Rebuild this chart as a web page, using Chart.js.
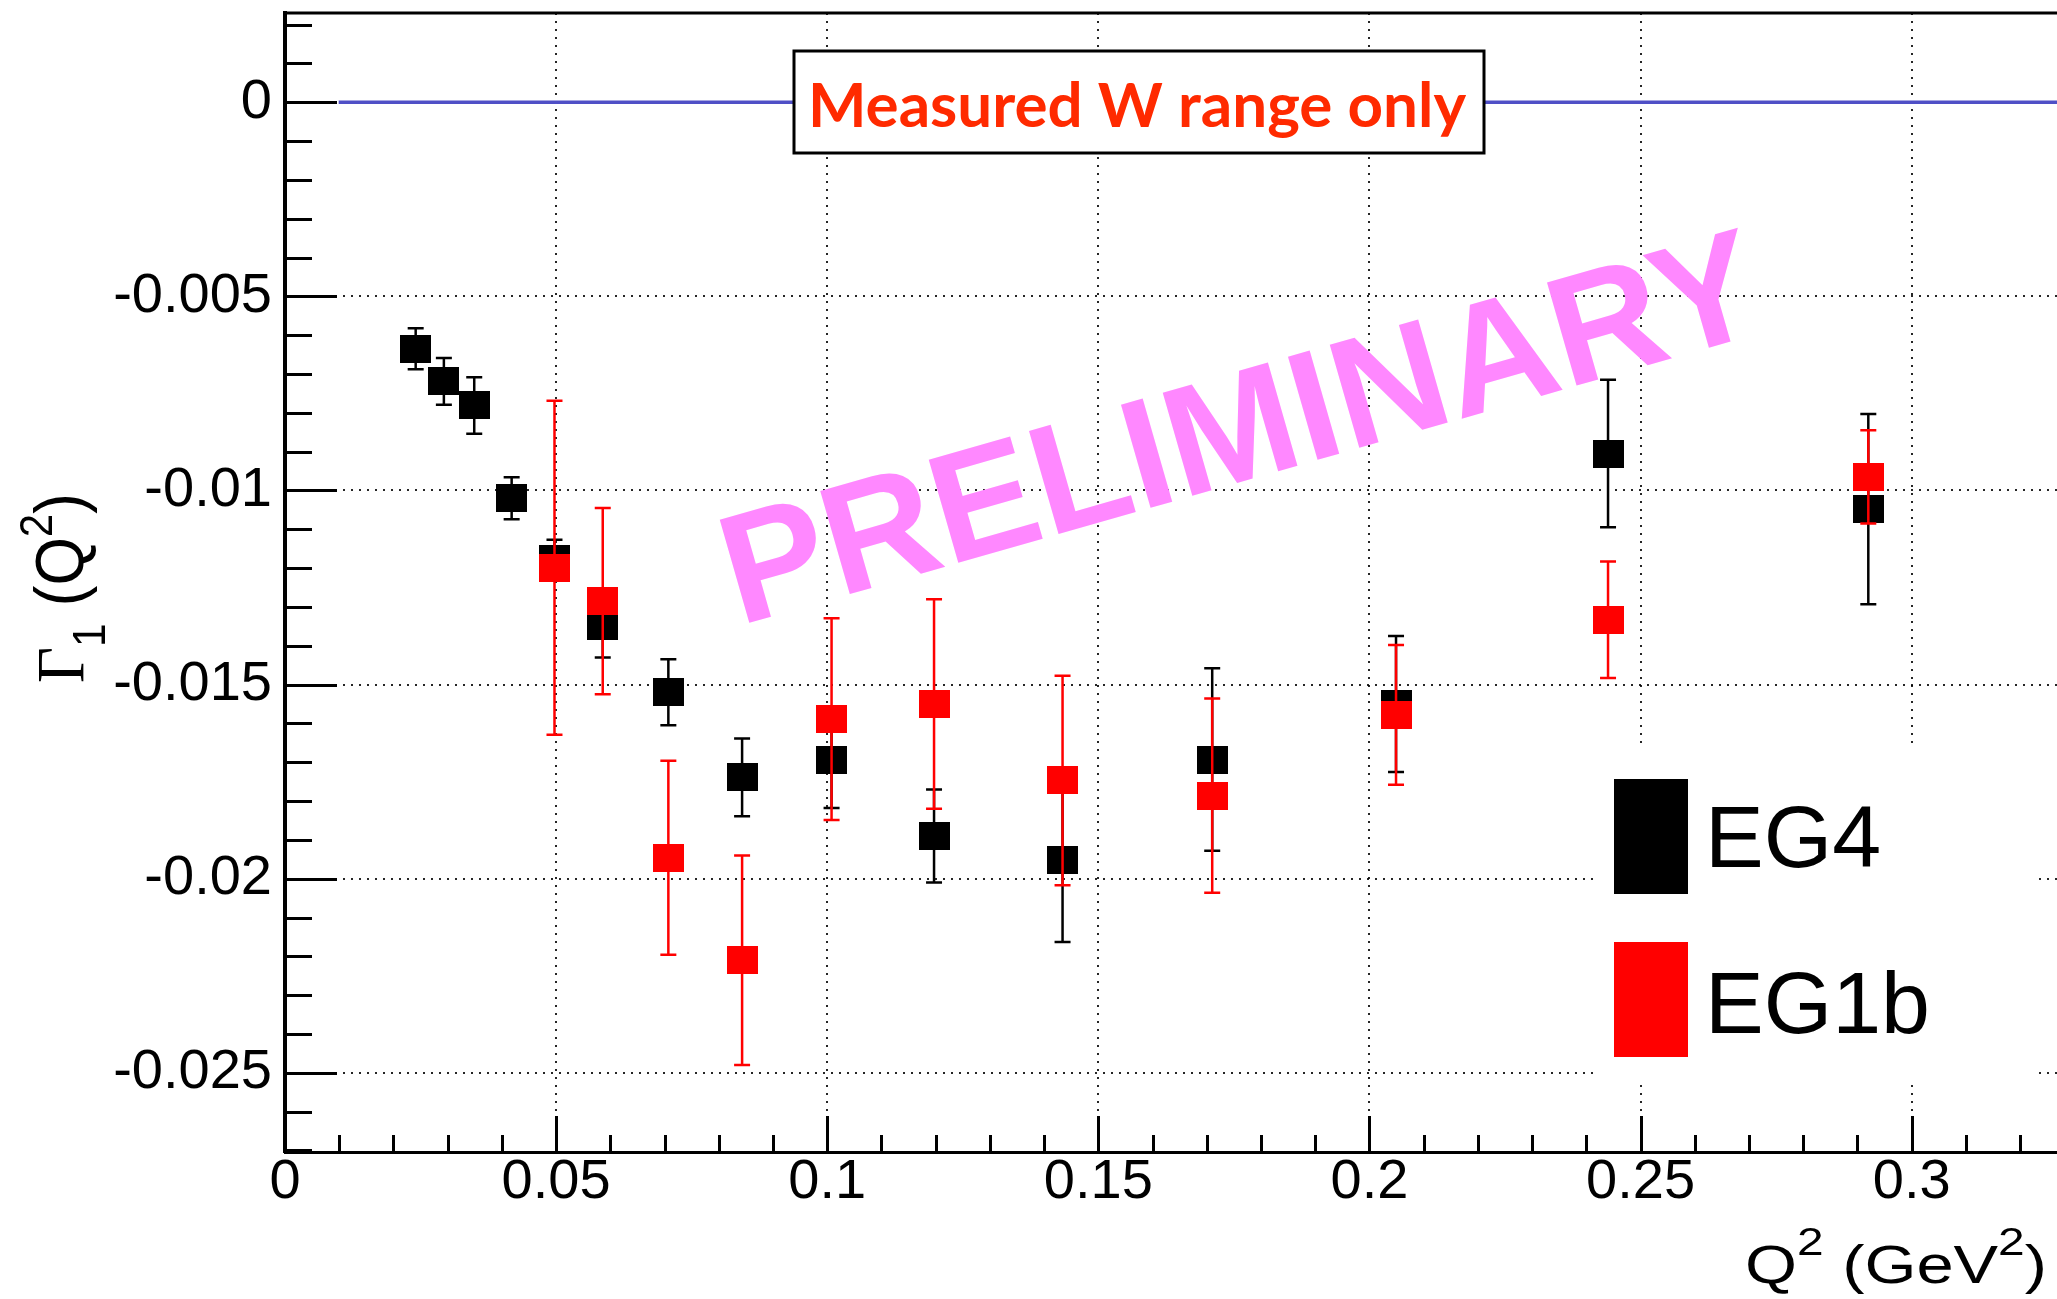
<!DOCTYPE html>
<html><head><meta charset="utf-8">
<script src="https://cdn.jsdelivr.net/npm/chart.js@4.4.1/dist/chart.umd.min.js"></script>
<style>html,body{margin:0;padding:0;background:#fff;overflow:hidden}canvas{display:block}</style>
</head><body>
<canvas id="c" width="2057" height="1299"></canvas>
<script>
// ---------------- data ----------------
const eg4Q2     = [0.0241, 0.0293, 0.0349, 0.0418, 0.0497, 0.0586, 0.0707, 0.0843, 0.1008, 0.1197, 0.1434, 0.1710, 0.2049, 0.2440, 0.2920];
const eg4Gamma1 = [-0.00635, -0.00719, -0.00781, -0.0102, -0.01177, -0.0135, -0.0152, -0.01739, -0.01693, -0.0189, -0.01953, -0.01693, -0.0155, -0.00905, -0.01048];
const eg4Err    = [0.00053, 0.0006, 0.00073, 0.00054, 0.0005, 0.0008, 0.00085, 0.001, 0.00125, 0.0012, 0.0021, 0.00235, 0.00175, 0.0019, 0.00245];

const eg1bQ2     = [0.0497, 0.0586, 0.0707, 0.0843, 0.1008, 0.1197, 0.1434, 0.1710, 0.2049, 0.2440, 0.2920];
const eg1bGamma1 = [-0.01199, -0.01285, -0.01946, -0.0221, -0.01589, -0.0155, -0.01747, -0.01786, -0.01578, -0.01333, -0.00965];
const eg1bErr    = [0.0043, 0.0024, 0.0025, 0.0027, 0.0026, 0.0027, 0.0027, 0.0025, 0.0018, 0.0015, 0.0012];

const zeroLineQ2 = [0.0099, 0.34];
const zeroLineValue = 0;

const xTickValues = [0, 0.05, 0.1, 0.15, 0.2, 0.25, 0.3];
const xTickLabels = ['0', '0.05', '0.1', '0.15', '0.2', '0.25', '0.3'];
const yTickValues = [-0.025, -0.02, -0.015, -0.01, -0.005, 0];
const yTickLabels = ['-0.025', '-0.02', '-0.015', '-0.01', '-0.005', '0'];

const seriesNames = ['EG4', 'EG1b'];
const boxText = 'Measured W range only';
const watermarkText = 'PRELIMINARY';

// ---------------- styling helpers ----------------
const SANS = '"Liberation Sans", Arial, sans-serif';
function marker(color) {
  const c = document.createElement('canvas');
  c.width = 31; c.height = 28;
  const g = c.getContext('2d');
  g.fillStyle = color; g.fillRect(0, 0, 31, 28);
  return c;
}
function inkText(ctx, text, x, y, targetW) {
  const m = ctx.measureText(text);
  const w = m.actualBoundingBoxLeft + m.actualBoundingBoxRight;
  ctx.save();
  ctx.translate(x, y);
  if (targetW) ctx.scale(targetW / w, 1);
  ctx.fillText(text, m.actualBoundingBoxLeft, 0);
  ctx.restore();
}
function richText(ctx, segs) {
  let w = 0;
  segs.forEach(s => { ctx.font = s.font; w += ctx.measureText(s.t).width; });
  return w;
}
function drawRich(ctx, segs) {
  let x = 0;
  segs.forEach(s => {
    ctx.font = s.font;
    ctx.fillText(s.t, x, s.dy || 0);
    x += ctx.measureText(s.t).width;
  });
}

const errorBars = {
  id: 'errorBars',
  beforeDatasetDraw(chart, args) {
    const ds = chart.data.datasets[args.index];
    if (!ds.errors) return;
    const ctx = chart.ctx, xs = chart.scales.x, ys = chart.scales.y;
    ctx.save();
    ctx.strokeStyle = ds.errorColor;
    ctx.lineWidth = 2.5;
    ds.data.forEach((p, i) => {
      const e = ds.errors[i];
      const X = xs.getPixelForValue(p.x);
      const y1 = ys.getPixelForValue(p.y + e), y2 = ys.getPixelForValue(p.y - e);
      ctx.beginPath();
      ctx.moveTo(X, y1); ctx.lineTo(X, y2);
      ctx.moveTo(X - 8, y1); ctx.lineTo(X + 8, y1);
      ctx.moveTo(X - 8, y2); ctx.lineTo(X + 8, y2);
      ctx.stroke();
    });
    ctx.restore();
  }
};

const decorations = {
  id: 'decorations',
  beforeDatasetsDraw(chart) {
    const ctx = chart.ctx;
    ctx.save();
    ctx.translate(749, 623);
    ctx.rotate(-16 * Math.PI / 180);
    ctx.font = 'bold 156px ' + SANS;
    ctx.fillStyle = '#ff88ff';
    ctx.textBaseline = 'alphabetic';
    inkText(ctx, watermarkText, 0, 0, 1060);
    ctx.restore();
  },
  afterDatasetsDraw(chart) {
    const ctx = chart.ctx;
    ctx.save();
    ctx.fillStyle = '#fff';
    ctx.fillRect(794, 51, 690, 102);
    ctx.strokeStyle = '#000'; ctx.lineWidth = 3;
    ctx.strokeRect(794, 51, 690, 102);
    ctx.fillStyle = '#ff2a00';
    ctx.font = 'bold 61px Lato, sans-serif';
    ctx.textBaseline = 'alphabetic';
    inkText(ctx, boxText, 812, 127, 655);
    ctx.fillStyle = '#fff';
    ctx.fillRect(1597, 749, 440, 336);
    ctx.fillStyle = '#000';
    ctx.fillRect(1614, 779, 74, 115);
    ctx.fillStyle = '#ff0000';
    ctx.fillRect(1614, 942, 74, 115);
    ctx.fillStyle = '#000';
    ctx.font = '88px ' + SANS;
    inkText(ctx, seriesNames[0], 1712, 867);
    inkText(ctx, seriesNames[1], 1712, 1033);
    ctx.restore();
  },
  afterDraw(chart) {
    const ctx = chart.ctx, a = chart.chartArea, xs = chart.scales.x, ys = chart.scales.y;
    ctx.save();
    ctx.strokeStyle = '#000';
    ctx.lineWidth = 3;
    ctx.beginPath();
    for (let k = -27; k <= 2; k++) {
      const y = Math.round(ys.getPixelForValue(k / 1000)) + 0.5;
      const len = (k % 5 === 0) ? 52 : 27;
      ctx.moveTo(a.left, y); ctx.lineTo(a.left + len, y);
    }
    for (let k = 0; k <= 32; k++) {
      const x = Math.round(xs.getPixelForValue(k / 100)) + 0.5;
      const len = (k % 5 === 0) ? 36 : 17;
      ctx.moveTo(x, a.bottom); ctx.lineTo(x, a.bottom - len);
    }
    ctx.moveTo(a.left, a.top); ctx.lineTo(a.right, a.top);
    ctx.stroke();

    ctx.fillStyle = '#000';
    ctx.textBaseline = 'alphabetic';
    const ySegs = [
      { t: '\u0393', font: '62px "Liberation Serif", serif' },
      { t: '1', font: '42px ' + SANS, dy: 20 },
      { t: ' (Q', font: '62px ' + SANS },
      { t: '2', font: '42px ' + SANS, dy: -28 },
      { t: ')', font: '62px ' + SANS }
    ];
    const yw = richText(ctx, ySegs);
    ctx.save();
    ctx.translate(83, 683);
    ctx.rotate(-Math.PI / 2);
    ctx.scale(190 / yw, 1.1);
    drawRich(ctx, ySegs);
    ctx.restore();

    const xSegs = [
      { t: 'Q', font: '53px ' + SANS },
      { t: '2', font: '38px ' + SANS, dy: -28 },
      { t: ' (GeV', font: '53px ' + SANS },
      { t: '2', font: '38px ' + SANS, dy: -28 },
      { t: ')', font: '53px ' + SANS }
    ];
    const xw = richText(ctx, xSegs);
    ctx.save();
    ctx.translate(1745, 1283);
    ctx.scale(302 / xw, 1);
    drawRich(ctx, xSegs);
    ctx.restore();
    ctx.restore();
  }
};

new Chart(document.getElementById('c'), {
  type: 'scatter',
  data: {
    datasets: [
      {
        label: seriesNames[1],
        data: eg1bQ2.map((x, i) => ({ x, y: eg1bGamma1[i] })),
        errors: eg1bErr, errorColor: '#ff0000',
        pointStyle: marker('#ff0000'), pointRadius: 15,
        order: 0
      },
      {
        label: seriesNames[0],
        data: eg4Q2.map((x, i) => ({ x, y: eg4Gamma1[i] })),
        errors: eg4Err, errorColor: '#000000',
        pointStyle: marker('#000000'), pointRadius: 15,
        order: 1
      },
      {
        type: 'line',
        label: 'zero',
        data: zeroLineQ2.map(x => ({ x, y: zeroLineValue })),
        borderColor: '#4f4fc6', borderWidth: 3.5, pointRadius: 0,
        showLine: true, fill: false,
        order: 2
      }
    ]
  },
  options: {
    responsive: false,
    animation: false,
    devicePixelRatio: 1,
    layout: { autoPadding: false, padding: { top: 13, left: 0, right: 0, bottom: 0 } },
    plugins: { legend: { display: false }, tooltip: { enabled: false } },
    scales: {
      x: {
        type: 'linear', min: 0, max: 0.3268,
        afterBuildTicks: s => { s.ticks = xTickValues.map(v => ({ value: v })); },
        afterFit: s => { s.height = 147; s.paddingLeft = 0; s.paddingRight = 0; },
        grid: { drawTicks: false, color: 'rgba(0,0,0,0.85)', lineWidth: 2 },
        border: { display: true, color: '#000', width: 3, dash: [2, 6] },
        ticks: {
          color: '#000', padding: 3, maxRotation: 0, autoSkip: false,
          font: { family: SANS, size: 56, lineHeight: 1 },
          callback: (v) => { const i = xTickValues.findIndex(t => Math.abs(t - v) < 1e-9); return i >= 0 ? xTickLabels[i] : ''; }
        }
      },
      y: {
        type: 'linear', min: -0.02704, max: 0.0023,
        afterBuildTicks: s => { s.ticks = yTickValues.map(v => ({ value: v })); },
        afterFit: s => { s.width = 285; s.paddingTop = 0; s.paddingBottom = 0; },
        grid: { drawTicks: false, color: 'rgba(0,0,0,0.85)', lineWidth: 2 },
        border: { display: true, color: '#000', width: 4, dash: [2, 6] },
        ticks: {
          color: '#000', padding: 13, autoSkip: false,
          font: { family: SANS, size: 56, lineHeight: 1 },
          callback: (v) => { const i = yTickValues.findIndex(t => Math.abs(t - v) < 1e-9); return i >= 0 ? yTickLabels[i] : ''; }
        }
      }
    }
  },
  plugins: [errorBars, decorations]
});
</script>
</body></html>
